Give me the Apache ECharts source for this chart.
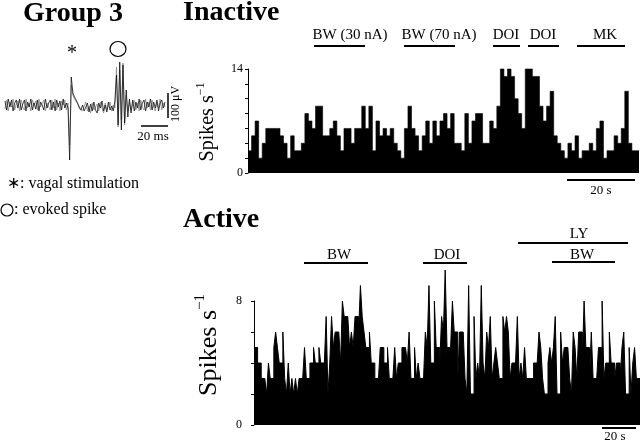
<!DOCTYPE html>
<html><head><meta charset="utf-8">
<script src="https://cdn.jsdelivr.net/npm/echarts@6/dist/echarts.min.js"></script>
<style>html,body{margin:0;padding:0;background:#fff}#c{width:640px;height:441px}</style>
</head><body><div id="c"></div>
<script>
// Inactive neuron: spikes per second, 1 s bins
const inactiveRate = [3,5,7,2,4,6,6,6,6,5,4,2,5,3,3,4,8,7,6,9,9,5,5,6,7,5,3,6,6,4,6,6,9,6,9,3,7,5,6,5,6,4,3,2,6,9,6,5,3,5,7,4,7,
  5,7,8,6,8,4,4,3,8,4,7,8,8,4,4,7,6,9,14,13,14,13,10,8,6,14,14,13,13,9,7,9,11,5,4,3,2,4,3,5,2,3,3,4,3,6,7,2,3,3,5,4,6,11,4,3,3];
// Active neuron: spikes per second
const activeRate = [5,5,4,4,3,3,3,2,4,3,3,5,6,5,4,4,6,3,2,4,2,3,2,3,2,3,3,3,5,3,3,4,4,5,4,4,5,4,4,4,7,2,4,7,5,6,6,6,4,8,7,7,7,
  5,6,5,7,7,6,9,7,6,5,5,6,4,4,3,3,3,5,5,4,4,5,3,3,3,5,3,4,4,5,5,5,4,6,3,3,5,3,4,3,3,3,6,5,9,4,4,8,5,5,4,
  7,6,10,5,5,5,8,6,6,3,6,6,6,3,2,9,2,2,7,3,4,3,9,4,3,6,5,7,3,4,5,4,3,3,7,6,7,6,3,4,4,4,7,3,4,3,5,3,3,3,
  3,4,4,4,6,5,3,2,2,4,5,4,5,7,2,2,6,4,5,5,5,3,2,6,5,3,6,6,4,8,5,5,3,6,3,3,3,5,5,8,3,4,4,6,4,4,3,4,4,3,5,6,2,2,5,2,4,5,3,3];
// Extracellular recording sweeps (µV, arbitrary samples)
const traceA = [4,-5,6,-2,5,-6,2,5,-3,6,-5,1,5,-6,3,-2,6,-5,2,-4,5,-6,3,0,-5,6,-3,2,5,-5,3,-6,5,-2,4,-5,6,-3,2,-3,
  -55,28,12,8,5,3,-2,-5,0,-6,
  -4,2,-7,1,-6,3,-5,-8,2,-3,4,-6,0,-7,3,-5,-1,-6,4,
  30,-20,43,-25,40,-18,15,-12,6,-8,
  5,-6,3,-3,6,-5,2,5,-6,3,-2,6,-5,3,-3,5,-6,2,5,-3,3];
const traceB = [-4,5,-6,3,-2,6,-5,1,4,-6,5,-2,-5,6,-3,2,-6,5,0,4,-5,6,-2,-4,5,-6,2,4,-5,5,-3,6,-5,2,-6,4,0,5,-5,2,
  -40,20,10,6,4,1,-4,-2,-6,-1,
  3,-6,-1,-8,2,-5,-7,1,-6,3,-3,-8,2,-5,-7,3,-6,0,-3,
  38,-22,35,-15,42,-20,10,-6,3,-5,
  -3,5,-5,2,-6,5,-2,-5,6,-3,3,-5,5,-2,-6,3,-3,6,-5,2,-2];
const inactiveTicks = ['0','14'];
const activeTicks = ['0','8'];

function steps(arr){ const d = arr.map((v,i)=>[i,v]); d.push([arr.length, arr[arr.length-1]]); return d; }
function idx(arr){ return arr.map((v,i)=>[i,v]); }
const serif = "'Liberation Serif','Times New Roman',serif";

function yAx(g, max, ticks, margin){
  return {gridIndex:g,type:'value',min:0,max:max,interval:2,
    axisLine:{show:true,lineStyle:{color:'#000',width:1}},
    axisTick:{show:true,length:3,lineStyle:{color:'#000',width:1}},
    splitLine:{show:false},
    axisLabel:{margin:margin,fontFamily:serif,fontSize:12,color:'#000',
      formatter:v=>ticks.includes(String(v))?String(v):''}};
}
function hist(data, g, w){
  return {type:'line',xAxisIndex:g,yAxisIndex:g,data:steps(data),step:'end',symbol:'none',
    clip:false,lineStyle:{width:w,color:'#000'},areaStyle:{color:'#000',opacity:1},silent:true};
}
function T(x,y,text,size,opts){
  return Object.assign({type:'text',x:x,y:y,silent:true,style:Object.assign({text:text,fontFamily:serif,fontSize:size,
    fill:'#000',align:'center',verticalAlign:'middle'},opts&&opts.style||{})},opts&&opts.el||{});
}
function L(x1,y1,x2,y2,w){
  return {type:'line',silent:true,shape:{x1:x1,y1:y1,x2:x2,y2:y2},style:{stroke:'#000',lineWidth:w||2}};
}
const supRich = s=>({sup:{fontFamily:serif,fontSize:s,verticalAlign:'top',lineHeight:s*2.2}});

const option = {
  animation:false,
  grid:[
    {left:248, top:69, width:391, height:104},
    {left:254, top:301, width:386, height:124},
    {left:5, top:55, width:160, height:110}
  ],
  xAxis:[
    {gridIndex:0,type:'value',min:0,max:inactiveRate.length,show:false},
    {gridIndex:1,type:'value',min:0,max:activeRate.length,show:false},
    {gridIndex:2,type:'value',min:0,max:traceA.length-1,show:false}
  ],
  yAxis:[
    yAx(0,14,inactiveTicks,5),
    yAx(1,8,activeTicks,12),
    {gridIndex:2,type:'value',min:-60,max:50,show:false}
  ],
  series:[
    hist(inactiveRate,0,0.6),
    hist(activeRate,1,1),
    {type:'line',xAxisIndex:2,yAxisIndex:2,data:idx(traceB),symbol:'none',clip:false,lineStyle:{width:0.8,color:'#888'},silent:true},
    {type:'line',xAxisIndex:2,yAxisIndex:2,data:idx(traceA),symbol:'none',clip:false,lineStyle:{width:0.8,color:'#111'},silent:true}
  ],
  graphic:[
    T(73,14,'Group 3',28,{style:{fontWeight:'bold'}}),
    T(183,13,'Inactive',28,{style:{fontWeight:'bold',align:'left'}}),
    T(183,220,'Active',28,{style:{fontWeight:'bold',align:'left'}}),
    // inactive annotations
    T(350,35,'BW (30 nA)',15), L(314,46,365,46),
    T(439,35,'BW (70 nA)',15), L(404,46,455,46),
    T(506,35,'DOI',15), L(493,46,520,46),
    T(543,35,'DOI',15), L(528,46,559,46),
    T(605,35,'MK',15), L(577,46,625,46),
    L(567,180,635,180), T(601,191,'20 s',13),
    // active annotations
    T(339,255,'BW',15), L(304,263,368,263),
    T(447,255,'DOI',15), L(423,263,467,263),
    T(579,234,'LY',15), L(518,243,628,243),
    T(582,255,'BW',15), L(552,262,615,262),
    L(602,428,636,428), T(615,437,'20 s',13),
    // axis titles
    {type:'text',x:208,y:122,rotation:Math.PI/2,silent:true,style:{text:'Spikes s{sup|\u22121}',rich:supRich(12),fontFamily:serif,fontSize:20,fill:'#000',align:'center',verticalAlign:'middle'}},
    {type:'text',x:209,y:345,rotation:Math.PI/2,silent:true,style:{text:'Spikes s{sup|\u22121}',rich:supRich(15),fontFamily:serif,fontSize:26,fill:'#000',align:'center',verticalAlign:'middle'}},
    // recording panel marks
    T(72,54,'*',20),
    {type:'ellipse',silent:true,shape:{cx:118,cy:49,rx:8,ry:7.5},style:{fill:'none',stroke:'#000',lineWidth:1.2}},
    L(168,93,168,118,1.5), L(141,126,168,126,1.5),
    T(153,137,'20 ms',13),
    {type:'text',x:176,y:104,rotation:Math.PI/2,silent:true,style:{text:'100 \u03bcV',fontFamily:serif,fontSize:12,fill:'#000',align:'center',verticalAlign:'middle'}},
    T(7,184,'\u2217: vagal stimulation',16,{style:{align:'left'}}),
    {type:'ellipse',silent:true,shape:{cx:7,cy:210,rx:6,ry:6},style:{fill:'none',stroke:'#000',lineWidth:1.2}},
    T(14,210,': evoked spike',16,{style:{align:'left'}})
  ]
};
const chart = echarts.init(document.getElementById('c'),null,{renderer:'canvas'});
chart.setOption(option);
</script></body></html>
